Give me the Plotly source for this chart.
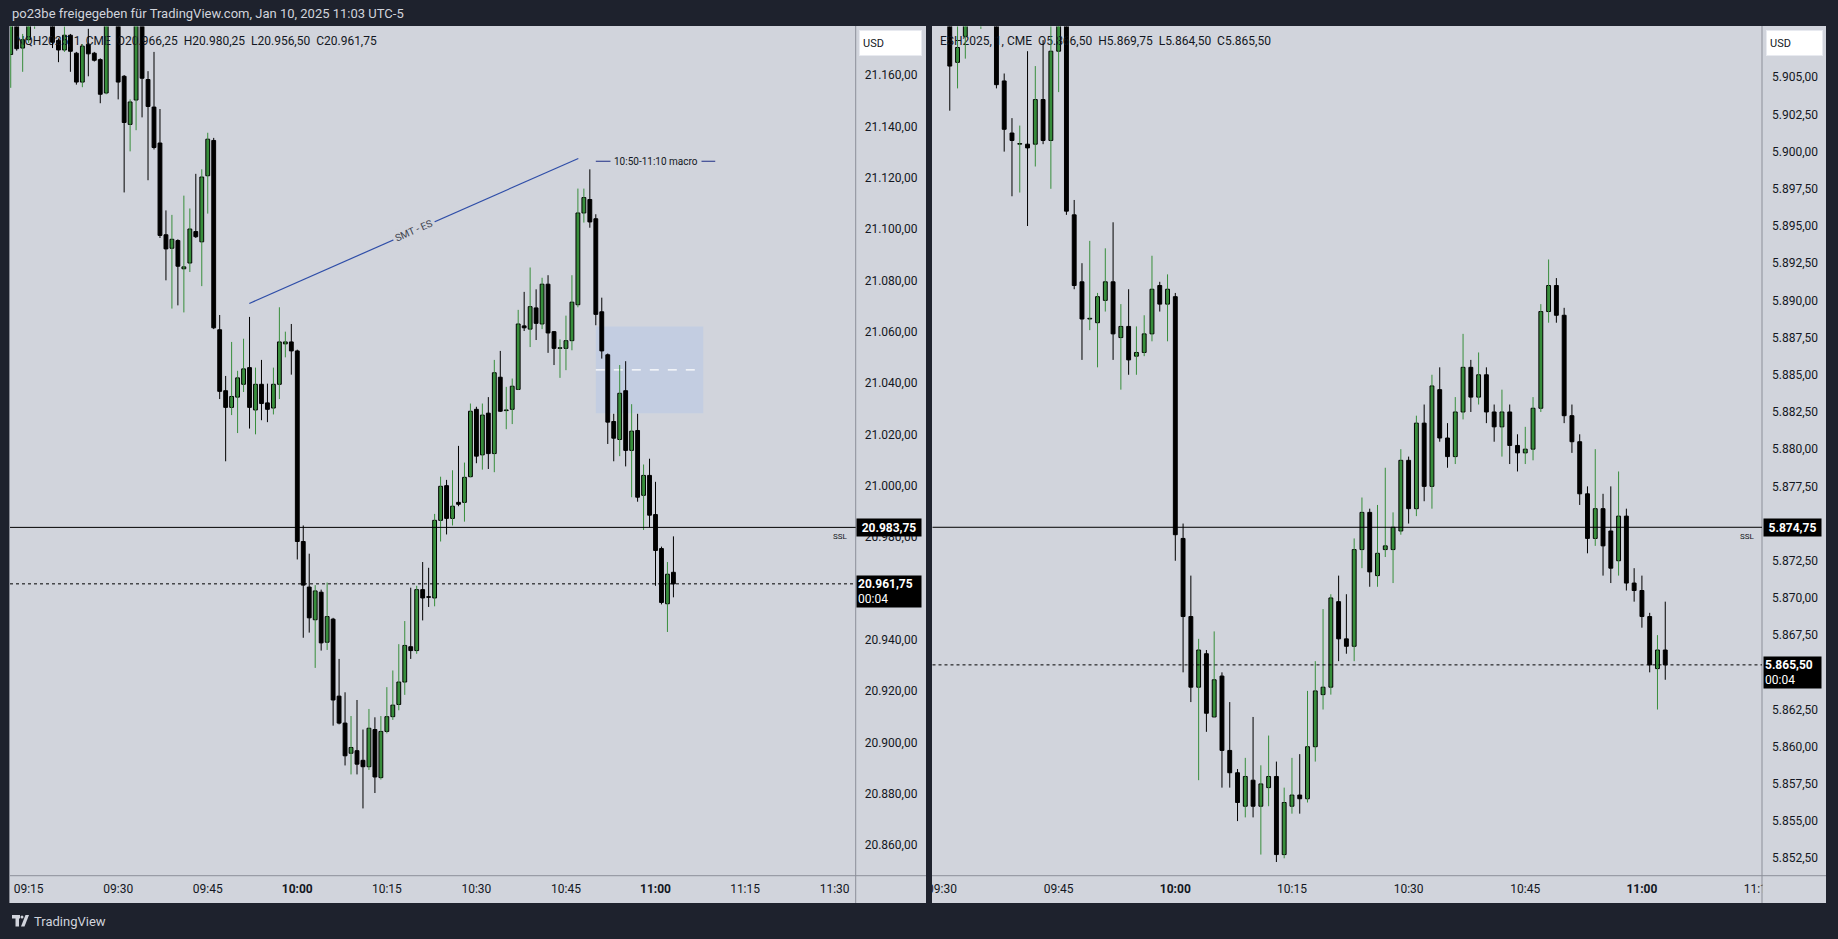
import plotly.graph_objects as go
import pandas as pd

W, H = 1838, 939

# ---------------- NQ (left panel), 1-minute candles from 09:12 ----------------
nq_start = "2025-01-10 09:12"
nq_open = [21168.0, 21186.0, 21170.5, 21173.75, 21182.0, 21188.0, 21192.0, 21184.0, 21173.5, 21169.75,
           21175.5, 21168.5, 21157.25, 21172.0, 21168.5, 21166.0, 21153.0, 21182.0, 21186.0, 21159.5,
           21140.75, 21150.25, 21182.0, 21158.25, 21147.5, 21133.5, 21097.75, 21092.5, 21095.5, 21084.5,
           21086.75, 21099.0, 21095.0, 21120.75, 21134.5, 21060.75, 21037.0, 21030.5, 21034.5, 21039.5,
           21046.0, 21029.5, 21039.5, 21032.25, 21030.25, 21039.5, 21055.25, 21056.0, 21052.5, 20978.25,
           20960.5, 20947.75, 20958.5, 20939.0, 20948.0, 20918.0, 20907.5, 20895.75, 20896.75, 20893.0,
           20890.5, 20905.0, 20886.25, 20904.25, 20910.0, 20914.75, 20923.5, 20937.25, 20935.75, 20959.5,
           20956.75, 20956.25, 20986.5, 21000.0, 20987.25, 20993.5, 20993.5, 21003.5, 21029.75, 21012.0,
           21028.25, 21012.5, 21042.25, 21029.25, 21029.75, 21037.5, 21062.25, 21061.0, 21069.25, 21063.0,
           21078.5, 21060.0, 21053.5, 21053.5, 21056.5, 21070.5, 21106.25, 21111.5, 21104.0, 21067.75,
           21051.0, 21025.0, 21018.0, 21037.0, 21013.75, 21021.5, 20996.25, 21004.0, 20988.75, 20975.5,
           20954.0, 20966.25]
nq_high = [21190, 21188, 21176, 21186, 21192, 21196, 21195, 21186, 21174.25, 21179,
           21176, 21169, 21172, 21178, 21169, 21166.5, 21186, 21190, 21190, 21160,
           21150.5, 21186, 21186, 21161.5, 21169, 21146.75, 21107.25, 21105.5, 21096, 21113,
           21108, 21121.5, 21123.25, 21137.5, 21135.5, 21066.5, 21042.75, 21056, 21044.75, 21057.25,
           21065.75, 21046, 21049, 21039.75, 21046, 21069.5, 21060, 21063, 21053, 20984.5,
           20973.5, 20961.25, 20959.5, 20962.25, 20948.5, 20932.5, 20919.5, 20910.25, 20916.5, 20905,
           20913, 20909.75, 20910.25, 20921.5, 20928, 20938.25, 20947.25, 20960.25, 20961, 20970.25,
           20968, 20989, 21003.5, 21002.25, 21006, 21015.5, 21009, 21032, 21030.75, 21032,
           21034.5, 21049, 21052.5, 21038.5, 21041.75, 21068.5, 21075.5, 21085, 21076.5, 21081,
           21082, 21060.25, 21057, 21066.25, 21082, 21115.75, 21115.75, 21123.25, 21105.75, 21073.25,
           21051.5, 21028, 21047, 21048.5, 21031.75, 21028, 21008.25, 21010.5, 21001.5, 20976.25,
           20970.25, 20980.25]
nq_low = [21155, 21169.5, 21161.25, 21172.5, 21178, 21183, 21182, 21170.5, 21165, 21169,
          21161.25, 21156.25, 21155.25, 21159.5, 21165.25, 21149, 21152.5, 21180, 21150.5, 21114.25,
          21130.25, 21138.5, 21143.5, 21119, 21131, 21096.5, 21080, 21069, 21070.25, 21067.5,
          21083.25, 21096.5, 21077.75, 21106, 21061, 21033.75, 21009.5, 21027.5, 21020.5, 21036.5,
          21022.25, 21020, 21025.5, 21024.75, 21027.75, 21033.75, 21050, 21043.25, 20971.25, 20940.75,
          20942.75, 20929, 20935.75, 20936, 20906.5, 20907, 20891, 20887.5, 20887.5, 20874.25,
          20889.25, 20880.25, 20885.5, 20903.5, 20908.75, 20912.5, 20918.5, 20932.5, 20934.5, 20947.5,
          20952.75, 20953, 20978.25, 20981, 20984.5, 20992, 20986, 21003.25, 21008.75, 21006.25,
          21006.5, 21005.25, 21028.75, 21022, 21024, 21037.25, 21060.25, 21054, 21056.75, 21061,
          21051.75, 21047, 21042, 21045, 21052.75, 21069.5, 21102.5, 21100.5, 21062.5, 21049.5,
          21016.25, 21009.5, 21011.5, 21007.5, 20995.5, 20993.75, 20982.75, 20983.75, 20961, 20953.75,
          20943, 20956.5]
nq_close = [21186, 21170.25, 21173.75, 21182, 21188, 21192, 21184, 21172.75, 21169.75, 21175.5,
            21169.25, 21157.25, 21171.25, 21168.25, 21165.75, 21152.5, 21182, 21186, 21157.25, 21141.5,
            21149.5, 21182, 21158.75, 21147.75, 21131.75, 21097.5, 21092.25, 21096, 21085.5, 21085.25,
            21100, 21097, 21120.25, 21135, 21061.5, 21036.75, 21030.5, 21034.75, 21042, 21045.5,
            21030.5, 21039.5, 21032, 21029.75, 21039.5, 21056, 21056, 21052.5, 20978.25, 20961.25,
            20948.5, 20959, 20938.75, 20949, 20916.5, 20907.5, 20894.75, 20898, 20891.5, 20890.5,
            20905.5, 20886.5, 20904.25, 20910, 20914.5, 20923.5, 20937.75, 20935.75, 20959.5, 20956.25,
            20956.5, 20986.5, 20999.75, 20987.25, 20992, 20992.75, 21003.25, 21029, 21011.5, 21027.5,
            21012.5, 21044, 21029, 21029.5, 21038.75, 21063, 21061.5, 21069.75, 21063.25, 21078.5,
            21059.5, 21053.5, 21053.75, 21056.5, 21071.5, 21106.25, 21112.25, 21102.75, 21066.75, 21052.5,
            21024.75, 21018.5, 21036, 21013.75, 21021.25, 20995.5, 21004, 20988.5, 20974.75, 20954.5,
            20965.5, 20961.75]

# ---------------- ES (right panel), 1-minute candles from 09:30 ----------------
es_start = "2025-01-10 09:30"
es_open = [5911, 5910.5, 5906, 5907.75, 5910, 5912, 5913, 5910.5, 5904.75, 5901.25,
           5900.5, 5900.5, 5900.5, 5903.5, 5900.75, 5906.75, 5910, 5895.75, 5891.25, 5888.75,
           5888.5, 5890, 5891.25, 5887.5, 5888.25, 5886.25, 5886.5, 5887.75, 5891, 5889.75,
           5890.25, 5874, 5868.75, 5864, 5866.25, 5862, 5864.75, 5859.75, 5858.25, 5856,
           5857.75, 5856, 5857.25, 5858, 5852.75, 5856, 5856.75, 5856.5, 5860, 5863.5,
           5864, 5869.75, 5867.25, 5866.75, 5873.25, 5875.75, 5871.5, 5873.25, 5873.25, 5874.5,
           5879.25, 5876, 5881.75, 5877.5, 5884, 5880.75, 5879.5, 5882.5, 5885.5, 5883.5,
           5885, 5882.5, 5881.5, 5882.5, 5880.25, 5879.75, 5880, 5882.75, 5889.25, 5891,
           5889, 5882.25, 5880.5, 5877, 5874, 5876, 5874.5, 5872.5, 5875.5, 5871,
           5870.5, 5868.75, 5865.25, 5866.5]
es_high = [5912.5, 5911.5, 5909.5, 5911, 5913.5, 5914.5, 5914, 5911.5, 5905.25, 5902.25,
           5901.75, 5906.75, 5905.75, 5907.5, 5908.5, 5912, 5911, 5896.75, 5892.5, 5894,
           5890.5, 5893.5, 5895.25, 5889.75, 5890.75, 5888.25, 5889, 5893, 5891.25, 5891.75,
           5890.5, 5875, 5871.5, 5867.25, 5866.5, 5867.75, 5865, 5863, 5858.5, 5859.25,
           5862, 5858.75, 5860.75, 5859, 5857.25, 5859.25, 5859.5, 5863.75, 5865.75, 5869.25,
           5870.25, 5871.5, 5870.25, 5874, 5876.75, 5876, 5876.25, 5878.75, 5875.75, 5880,
           5879.5, 5882.25, 5883, 5885, 5885.5, 5881.75, 5883.5, 5887.75, 5886, 5886.5,
           5885.5, 5883, 5884, 5883, 5881, 5881.5, 5883.5, 5889.75, 5892.75, 5891.5,
           5889.5, 5883, 5881, 5877.5, 5880, 5877, 5877.5, 5878.5, 5876, 5872,
           5871.5, 5869, 5867.5, 5869.75]
es_low = [5909, 5902.75, 5904.25, 5906.25, 5909, 5908.25, 5909.5, 5904.25, 5900, 5897,
          5897.25, 5895, 5899, 5900.5, 5897.5, 5904, 5895.75, 5890.75, 5886, 5888,
          5885.5, 5889.25, 5886, 5884, 5885, 5885, 5886.25, 5887.25, 5889.25, 5887.25,
          5872.5, 5865, 5863, 5857.75, 5861, 5862, 5857.25, 5857.25, 5855, 5855.25,
          5855.25, 5852.75, 5856, 5852.25, 5852.5, 5855.5, 5855.5, 5856.25, 5859, 5862.5,
          5863.5, 5865.75, 5866.25, 5865.75, 5872, 5870.75, 5870.75, 5872.75, 5871, 5874.25,
          5875, 5875.5, 5876.5, 5876, 5880.5, 5878.75, 5879, 5882, 5882.5, 5883,
          5881.75, 5880.5, 5879.5, 5879, 5878.5, 5879, 5879.25, 5882.5, 5888.5, 5888.5,
          5881.75, 5879.75, 5876.25, 5873, 5873.5, 5871.5, 5871, 5871.5, 5870.5, 5869.75,
          5868, 5865, 5862.5, 5864.5]
es_close = [5910.5, 5905.75, 5907, 5910, 5912, 5913, 5910.5, 5904.5, 5901.5, 5900.75,
            5900.5, 5900.25, 5903.5, 5900.75, 5906.75, 5910, 5896, 5891, 5888.75, 5888.75,
            5890.25, 5891.25, 5887.75, 5888.25, 5886, 5886.5, 5887.75, 5890.75, 5889.75, 5890.75,
            5874.25, 5868.75, 5864, 5866.5, 5862.25, 5864.5, 5859.75, 5858.25, 5856.25, 5858,
            5856, 5857.5, 5858, 5852.75, 5856.25, 5856.75, 5856.5, 5860, 5863.75, 5864,
            5870, 5867.25, 5866.75, 5873.25, 5875.75, 5871.75, 5873, 5873.5, 5874.75, 5879.25,
            5876, 5881.75, 5877.5, 5884.25, 5880.75, 5879.5, 5882.5, 5885.5, 5883.5, 5885,
            5882.5, 5881.5, 5882.5, 5880.25, 5879.75, 5880, 5882.75, 5889.25, 5891, 5889,
            5882.25, 5880.5, 5877, 5874, 5876, 5873.5, 5872, 5875.5, 5871, 5870.5,
            5868.75, 5865.5, 5866.5, 5865.5]

# ---------------- axes ticks / levels / annotations ----------------
# (20.960 and 5.865 are fully covered by the last-price labels in the reference)
nq_ticks = [20860, 20880, 20900, 20920, 20940, 20980, 21000, 21020, 21040,
            21060, 21080, 21100, 21120, 21140, 21160]
es_ticks = [5852.5, 5855, 5857.5, 5860, 5862.5, 5867.5, 5870, 5872.5, 5875,
            5877.5, 5880, 5882.5, 5885, 5887.5, 5890, 5892.5, 5895, 5897.5, 5900, 5902.5, 5905]
nq_time_ticks = ["09:15", "09:30", "09:45", "10:00", "10:15", "10:30", "10:45", "11:00", "11:15", "11:30"]
es_time_ticks = ["09:30", "09:45", "10:00", "10:15", "10:30", "10:45", "11:00", "11:15"]
bold_ticks = ["10:00", "11:00"]

nq_ssl = 20983.75
es_ssl = 5874.75
countdown = "00:04"
header_text = "po23be freigegeben für TradingView.com, Jan 10, 2025 11:03 UTC-5"
nq_symbol = "NQH2025, 1, CME"
es_symbol = "ESH2025, 1, CME"

smt_start = ("2025-01-10 09:51:58", 21071.0)
smt_end = ("2025-01-10 10:47:04", 21127.5)
smt_label = "SMT - ES"
macro_start, macro_end, macro_price = "2025-01-10 10:50", "2025-01-10 11:10", 21126.4
macro_label = "10:50-11:10 macro"
fvg_start, fvg_end = "2025-01-10 10:50", "2025-01-10 11:08"
fvg_low, fvg_high = 21028.25, 21062.0

# ---------------- colours ----------------
FRAME = "#1e222d"
PANEL = "#d1d4dc"
GREEN = "#388e3c"
TEXT = "#131722"
SEP = "#8c8f99"
FONT = "Roboto"

base_day = pd.Timestamp("2025-01-10")


def ts(minutes):
    return base_day + pd.Timedelta(minutes=minutes)


def de(v, nd=2):
    s = f"{v:,.{nd}f}"
    return s.replace(",", "X").replace(".", ",").replace("X", ".")


fig = go.Figure()

# geometry (pixels)
L_X0, L_X1 = 10.0, 855.7
R_X0, R_X1 = 932.5, 1762.0
Y_TOP, Y_AX = 26.5, 875.7
P_TOP, P_BOT = 26.0, 903.0
L_RANGE = (551.88, 693.53)
R_RANGE = (568.78, 675.44)
L_YR = (20848.04, 21178.9)
R_YR = (5851.33, 5908.41)


def px_to_data(px, py, X0, X1, xr, yr):
    """pixel position inside a panel -> (time, price) in that panel's axes"""
    m = xr[0] + (px - X0) / (X1 - X0) * (xr[1] - xr[0])
    p = yr[1] - (py - Y_TOP) / (Y_AX - Y_TOP) * (yr[1] - yr[0])
    return ts(m), p


# legends drawn first so that the candles lie over them (as in TradingView)
for (X0, X1, xr, yr, xa, ya), sym, o, h, l, c in [
        ((L_X0, L_X1, L_RANGE, L_YR, "x", "y"), nq_symbol, nq_open, nq_high, nq_low, nq_close),
        ((R_X0, R_X1, R_RANGE, R_YR, "x2", "y2"), es_symbol, es_open, es_high, es_low, es_close)]:
    txt = f"{sym}  O{de(o[-1])}  H{de(h[-1])}  L{de(l[-1])}  C{de(c[-1])}"
    lx = 16.0 if xa == "x" else 940.0
    tx, ty = px_to_data(lx, 41.5, X0, X1, xr, yr)
    fig.add_trace(go.Scatter(x=[tx], y=[ty], mode="text", text=[txt], textposition="middle right",
                             textfont=dict(family=FONT, size=12, color=TEXT), cliponaxis=False,
                             xaxis=xa, yaxis=ya, hoverinfo="skip", showlegend=False))


def add_candles(times, o, h, l, c, xa, ya, width_ms, min_h):
    wxg, wyg, wxb, wyb = [], [], [], []
    fills, bases, hts = [], [], []
    for t, oo, hh, ll, cc in zip(times, o, h, l, c):
        up = cc >= oo
        if up:
            wxg += [t, t, None]; wyg += [ll, hh, None]
        else:
            wxb += [t, t, None]; wyb += [ll, hh, None]
        fills.append(GREEN if up else "#000000")
        bases.append(min(oo, cc))
        hts.append(max(abs(cc - oo), min_h))
    fig.add_trace(go.Scatter(x=wxg, y=wyg, mode="lines", line=dict(color=GREEN, width=1),
                             xaxis=xa, yaxis=ya, hoverinfo="skip", showlegend=False))
    fig.add_trace(go.Scatter(x=wxb, y=wyb, mode="lines", line=dict(color="#000000", width=1),
                             xaxis=xa, yaxis=ya, hoverinfo="skip", showlegend=False))
    fig.add_trace(go.Bar(x=list(times), y=hts, base=bases, width=[width_ms] * len(hts),
                         marker=dict(color=fills, line=dict(color="#000000", width=1)),
                         xaxis=xa, yaxis=ya, hoverinfo="skip", showlegend=False))


nq_time = pd.date_range(nq_start, periods=len(nq_open), freq="min")
es_time = pd.date_range(es_start, periods=len(es_open), freq="min")

shapes = []
annotations = []

# panel backgrounds
for x0, x1 in [(9.4, 926.0), (932.0, 1826.0)]:
    shapes.append(dict(type="rect", xref="paper", yref="paper", x0=x0 / W, x1=x1 / W,
                       y0=1 - P_BOT / H, y1=1 - P_TOP / H, fillcolor=PANEL, line=dict(width=0),
                       layer="below"))
# covers that clip time labels at the panel edges (as the reference does)
shapes.append(dict(type="rect", xref="paper", yref="paper", x0=926.0 / W, x1=932.0 / W,
                   y0=1 - P_BOT / H, y1=1 - P_TOP / H, fillcolor=FRAME, line=dict(width=0)))
shapes.append(dict(type="rect", xref="paper", yref="paper", x0=1762.6 / W, x1=1826.0 / W,
                   y0=1 - P_BOT / H, y1=1 - 876.3 / H, fillcolor=PANEL, line=dict(width=0)))
# separator lines (price-axis and time-axis borders)
for px0, pax, px1 in [(9.4, L_X1, 926.0), (932.0, R_X1, 1826.0)]:
    shapes.append(dict(type="line", xref="paper", yref="paper", x0=pax / W, x1=pax / W,
                       y0=1 - P_BOT / H, y1=1 - P_TOP / H, line=dict(color=SEP, width=1)))
    shapes.append(dict(type="line", xref="paper", yref="paper", x0=px0 / W, x1=px1 / W,
                       y0=1 - Y_AX / H, y1=1 - Y_AX / H, line=dict(color=SEP, width=1)))

# FVG box + midline (left)
shapes.append(dict(type="rect", xref="x", yref="y", x0=fvg_start, x1=fvg_end, y0=fvg_low, y1=fvg_high,
                   fillcolor="#c3cde1", line=dict(width=0), layer="below"))
shapes.append(dict(type="line", xref="x", yref="y", x0=fvg_start, x1=fvg_end,
                   y0=(fvg_low + fvg_high) / 2, y1=(fvg_low + fvg_high) / 2,
                   line=dict(color="#ffffff", width=1.3, dash="dash"), layer="below"))

add_candles(nq_time, nq_open, nq_high, nq_low, nq_close, "x", "y", 38500, 0.25)
add_candles(es_time, es_open, es_high, es_low, es_close, "x2", "y2", 30000, 0.045)

# SSL + last price lines
for xr, yr, lvl, last in [("x", "y", nq_ssl, nq_close[-1]), ("x2", "y2", es_ssl, es_close[-1])]:
    shapes.append(dict(type="line", xref=f"{xr} domain", yref=yr, x0=0, x1=1, y0=lvl, y1=lvl,
                       line=dict(color="#000000", width=1)))
    shapes.append(dict(type="line", xref=f"{xr} domain", yref=yr, x0=0, x1=1, y0=last, y1=last,
                       line=dict(color="#000000", width=1, dash="dot")))

# SMT line and macro line
shapes.append(dict(type="line", xref="x", yref="y", x0=smt_start[0], y0=smt_start[1],
                   x1=smt_end[0], y1=smt_end[1], line=dict(color="#2f4ea8", width=1.2)))
shapes.append(dict(type="line", xref="x", yref="y", x0=macro_start, x1=macro_end,
                   y0=macro_price, y1=macro_price, line=dict(color="#1f2f86", width=1.2)))

smt_mid_t = pd.Timestamp(smt_start[0]) + (pd.Timestamp(smt_end[0]) - pd.Timestamp(smt_start[0])) * 0.5
annotations.append(dict(x=smt_mid_t, y=(smt_start[1] + smt_end[1]) / 2, xref="x", yref="y",
                        text=smt_label, showarrow=False, textangle=-23.8,
                        font=dict(family=FONT, size=10, color="#434651"),
                        bgcolor=PANEL, borderpad=2))
macro_mid = pd.Timestamp(macro_start) + (pd.Timestamp(macro_end) - pd.Timestamp(macro_start)) / 2
annotations.append(dict(x=macro_mid, y=macro_price, xref="x", yref="y", text=macro_label,
                        showarrow=False, font=dict(family=FONT, size=10, color=TEXT),
                        bgcolor=PANEL, borderpad=3))

# header and bottom brand
annotations.append(dict(x=9.5 / W, y=1 - 13.5 / H, xref="paper", yref="paper", xanchor="left",
                        yanchor="middle", text=header_text, showarrow=False,
                        font=dict(family=FONT, size=13, color="#d1d4dc")))
annotations.append(dict(x=31.5 / W, y=1 - 921 / H, xref="paper", yref="paper", xanchor="left",
                        yanchor="middle", text="TradingView", showarrow=False,
                        font=dict(family=FONT, size=13, color="#d1d4dc")))
# small logo
shapes.append(dict(type="rect", xref="paper", yref="paper", x0=12 / W, x1=20 / W,
                   y0=1 - 918.5 / H, y1=1 - 915 / H, fillcolor="#d1d4dc", line=dict(width=0)))
shapes.append(dict(type="rect", xref="paper", yref="paper", x0=15.5 / W, x1=19 / W,
                   y0=1 - 926.5 / H, y1=1 - 915 / H, fillcolor="#d1d4dc", line=dict(width=0)))
shapes.append(dict(type="circle", xref="paper", yref="paper", x0=20.5 / W, x1=23.5 / W,
                   y0=1 - 918.5 / H, y1=1 - 915.5 / H, fillcolor="#d1d4dc", line=dict(width=0)))
shapes.append(dict(type="path", xref="paper", yref="paper",
                   path=f"M {21/W} {1-926.5/H} L {24.5/W} {1-926.5/H} L {29/W} {1-915/H} L {25.5/W} {1-915/H} Z",
                   fillcolor="#d1d4dc", line=dict(width=0)))

# USD boxes
for bx0, bx1 in [(859.0, 922.0), (1766.0, 1823.0)]:
    annotations.append(dict(x=bx0 / W, y=1 - 43.5 / H, xref="paper", yref="paper", xanchor="left",
                            yanchor="middle", text="USD", showarrow=False, width=bx1 - bx0 - 8,
                            height=18, align="left", bgcolor="#ffffff", bordercolor="#e8eaf0",
                            borderpad=3, font=dict(family=FONT, size=11, color=TEXT)))

# price labels on axes
for yr, ax_x, wbox, lvl, last, sslx in [("y", 856.0, 62, nq_ssl, nq_close[-1], 850.0),
                                        ("y2", 1763.0, 55, es_ssl, es_close[-1], 1757.0)]:
    annotations.append(dict(x=ax_x / W, y=lvl, xref="paper", yref=yr, xanchor="left", yanchor="middle",
                            text=f"<b>{de(lvl)}</b>", showarrow=False, width=wbox, height=15,
                            bgcolor="#000000", borderpad=1, align="center",
                            font=dict(family=FONT, size=12, color="#ffffff")))
    annotations.append(dict(x=ax_x / W, y=last, xref="paper", yref=yr, xanchor="left", yanchor="top",
                            yshift=9, text=f"<b>{de(last)}</b><br>{countdown}", showarrow=False,
                            width=wbox, height=29, bgcolor="#000000", borderpad=1, align="left",
                            font=dict(family=FONT, size=12, color="#ffffff")))
    annotations.append(dict(x=sslx / W, y=lvl, xref="paper", yref=yr, xanchor="right", yanchor="top",
                            yshift=-3, text="SSL", showarrow=False,
                            font=dict(family=FONT, size=8, color=TEXT)))


def tick_text(lbls):
    return [f"<b>{t}</b>" if t in bold_ticks else t for t in lbls]


axis_common = dict(showgrid=False, zeroline=False, showline=False, ticks="", fixedrange=True,
                   automargin=False, tickfont=dict(family=FONT, size=12, color=TEXT))

fig.update_layout(
    width=W, height=H, autosize=False, margin=dict(l=0, r=0, t=0, b=0, pad=0, autoexpand=False),
    paper_bgcolor=FRAME, plot_bgcolor=PANEL, separators=",.",
    barmode="overlay", showlegend=False,
    xaxis=dict(domain=[L_X0 / W, L_X1 / W], anchor="y", type="date",
               range=[ts(L_RANGE[0]), ts(L_RANGE[1])],
               tickvals=[pd.Timestamp(f"2025-01-10 {t}") for t in nq_time_ticks],
               ticktext=tick_text(nq_time_ticks), ticklabelstandoff=4, **axis_common),
    yaxis=dict(domain=[1 - Y_AX / H, 1 - Y_TOP / H], anchor="x", side="right",
               range=list(L_YR), tickvals=nq_ticks, tickformat=",.2f",
               ticklabelstandoff=8, **axis_common),
    xaxis2=dict(domain=[R_X0 / W, R_X1 / W], anchor="y2", type="date",
                range=[ts(R_RANGE[0]), ts(R_RANGE[1])],
                tickvals=[pd.Timestamp(f"2025-01-10 {t}") for t in es_time_ticks],
                ticktext=tick_text(es_time_ticks), ticklabelstandoff=4, **axis_common),
    yaxis2=dict(domain=[1 - Y_AX / H, 1 - Y_TOP / H], anchor="x2", side="right",
                range=list(R_YR), tickvals=es_ticks, tickformat=",.2f",
                ticklabelstandoff=9, **axis_common),
    shapes=shapes, annotations=annotations,
)

post = ("document.body.style.margin='0';document.body.style.padding='0';"
        "document.documentElement.style.overflow='hidden';document.body.style.overflow='hidden';"
        "var gd=document.getElementById('{plot_id}');"
        "Plotly.relayout(gd,{width:%d,height:%d});" % (W, H))

fig.write_html("out.html", config={"displayModeBar": False, "responsive": False},
               post_script=post)
